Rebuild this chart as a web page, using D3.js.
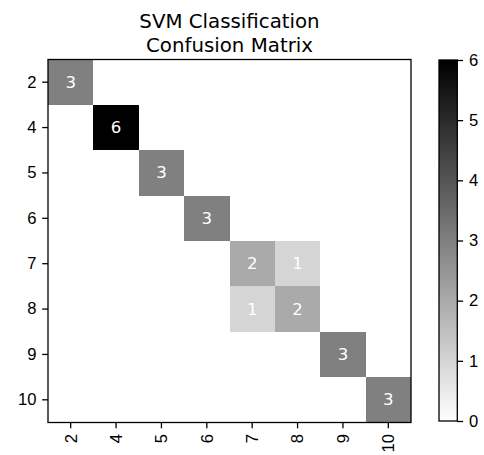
<!DOCTYPE html>
<html>
<head>
<meta charset="utf-8">
<script src="https://cdn.jsdelivr.net/npm/d3@7"></script>
<style>
  html, body { margin: 0; padding: 0; background: #fff; }
  svg { display: block; font-family: "DejaVu Sans", sans-serif; }
</style>
</head>
<body>
<svg id="chart" width="484" height="455"></svg>
<script>
// ---- data ----
const titleLines = ["SVM Classification", "Confusion Matrix"];
const classLabels = ["2", "4", "5", "6", "7", "8", "9", "10"];
// rows = true label, columns = predicted label
const row2  = [3, 0, 0, 0, 0, 0, 0, 0];
const row4  = [0, 6, 0, 0, 0, 0, 0, 0];
const row5  = [0, 0, 3, 0, 0, 0, 0, 0];
const row6  = [0, 0, 0, 3, 0, 0, 0, 0];
const row7  = [0, 0, 0, 0, 2, 1, 0, 0];
const row8  = [0, 0, 0, 0, 1, 2, 0, 0];
const row9  = [0, 0, 0, 0, 0, 0, 3, 0];
const row10 = [0, 0, 0, 0, 0, 0, 0, 3];
const matrixRows = [row2, row4, row5, row6, row7, row8, row9, row10];
const colorbarTicks = [0, 1, 2, 3, 4, 5, 6];

// ---- layout ----
const svg = d3.select("#chart");
const plot = { left: 48, top: 59.5, size: 363 };
const cb = { left: 439, top: 60, width: 18.3, height: 361 };
const tickFont = 16.6;

const x = d3.scaleBand().domain(classLabels).range([plot.left, plot.left + plot.size]).padding(0);
const y = d3.scaleBand().domain(classLabels).range([plot.top, plot.top + plot.size]).padding(0);
const vmax = d3.max(matrixRows, r => d3.max(r));
const color = d3.scaleLinear().domain([0, vmax]).range(["#ffffff", "#000000"]);

const cells = [];
matrixRows.forEach((r, i) => r.forEach((v, j) => cells.push({ row: classLabels[i], col: classLabels[j], v })));

// cells
svg.append("g").selectAll("rect").data(cells).join("rect")
  .attr("x", d => x(d.col))
  .attr("y", d => y(d.row))
  .attr("width", x.bandwidth())
  .attr("height", y.bandwidth())
  .attr("fill", d => color(d.v))
  .attr("shape-rendering", "crispEdges");

// cell text (nonzero only)
svg.append("g").selectAll("text").data(cells.filter(d => d.v > 0)).join("text")
  .attr("x", d => x(d.col) + x.bandwidth() / 2)
  .attr("y", d => y(d.row) + y.bandwidth() / 2)
  .attr("text-anchor", "middle")
  .attr("dominant-baseline", "central")
  .attr("fill", "#ffffff")
  .attr("font-size", tickFont)
  .text(d => d.v);

// frame
svg.append("rect")
  .attr("x", plot.left).attr("y", plot.top)
  .attr("width", plot.size).attr("height", plot.size)
  .attr("fill", "none").attr("stroke", "#000").attr("stroke-width", 1.3);

// axes
const yAxis = d3.axisLeft(y).tickSize(5.8).tickPadding(5.8);
const gy = svg.append("g").attr("transform", `translate(${plot.left},0)`).call(yAxis);
gy.select(".domain").remove();
gy.selectAll("line").attr("stroke-width", 1.3);
gy.selectAll("text").attr("font-size", tickFont).attr("fill", "#000");

const xAxis = d3.axisBottom(x).tickSize(5.8).tickPadding(5.8);
const gx = svg.append("g").attr("transform", `translate(0,${plot.top + plot.size})`).call(xAxis);
gx.select(".domain").remove();
gx.selectAll("line").attr("stroke-width", 1.3);
gx.selectAll("text")
  .attr("font-size", tickFont).attr("fill", "#000")
  .attr("transform", "rotate(-90)")
  .attr("x", -11.6).attr("y", 0).attr("dy", "0.35em")
  .attr("text-anchor", "end");

// title
svg.append("text")
  .attr("x", plot.left + plot.size / 2)
  .attr("text-anchor", "middle")
  .attr("font-size", 19.8)
  .selectAll("tspan").data(titleLines).join("tspan")
  .attr("x", plot.left + plot.size / 2)
  .attr("y", (d, i) => 27.5 + i * 24)
  .text(d => d);

// colorbar
const defs = svg.append("defs");
const grad = defs.append("linearGradient").attr("id", "cbgrad")
  .attr("x1", 0).attr("y1", 1).attr("x2", 0).attr("y2", 0);
grad.append("stop").attr("offset", 0).attr("stop-color", color(0));
grad.append("stop").attr("offset", 1).attr("stop-color", color(vmax));
svg.append("rect")
  .attr("x", cb.left).attr("y", cb.top)
  .attr("width", cb.width).attr("height", cb.height)
  .attr("fill", "url(#cbgrad)")
  .attr("stroke", "#000").attr("stroke-width", 1.3);

const cbScale = d3.scaleLinear().domain([0, vmax]).range([cb.top + cb.height, cb.top]);
const cbAxis = d3.axisRight(cbScale).tickValues(colorbarTicks).tickSize(5.8).tickPadding(5.8).tickFormat(d3.format("d"));
const gcb = svg.append("g").attr("transform", `translate(${cb.left + cb.width},0)`).call(cbAxis);
gcb.select(".domain").remove();
gcb.selectAll("line").attr("stroke-width", 1.3);
gcb.selectAll("text").attr("font-size", tickFont).attr("fill", "#000");
</script>
</body>
</html>
